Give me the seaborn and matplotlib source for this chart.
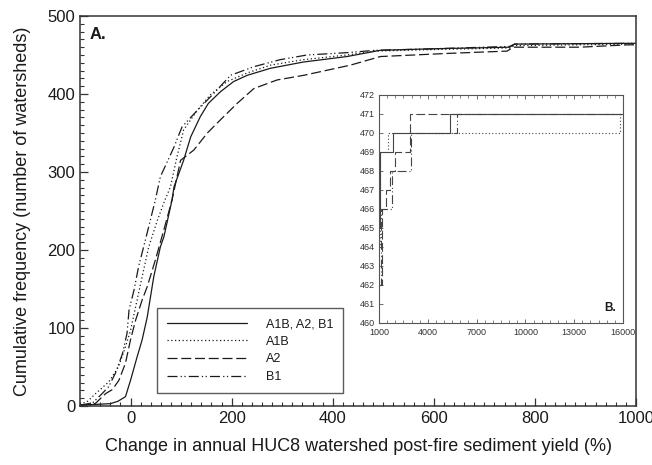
import numpy as np
import pandas as pd
import matplotlib
matplotlib.use("Agg")
import matplotlib.pyplot as plt
from matplotlib.ticker import MultipleLocator
import seaborn as sns

# ---------------- data ----------------
series_labels = ["A1B, A2, B1", "A1B", "A2", "B1"]

# Main panel: change (%) vs cumulative number of watersheds
all_x = [-100, -70, -40, -25, -10, 0, 13, 23, 33, 46, 59, 66, 82, 86, 105, 119, 138,
         154, 178, 204, 231, 277, 342, 428, 494, 600, 750, 760, 1000]
all_y = [1, 2, 3, 6, 12, 33, 63, 85, 114, 166, 204, 217, 264, 281, 315, 345, 371,
         388, 403, 416, 424, 433, 441, 448, 456, 458, 460, 464, 465]

a1b_x = [-100, -85, -69, -43, -24, -10, 0, 10, 23, 36, 53, 68, 79, 92, 105, 132, 158,
         191, 231, 277, 342, 428, 484, 600, 750, 760, 1000]
a1b_y = [2, 6, 16, 31, 50, 76, 97, 127, 166, 204, 238, 264, 281, 320, 354, 379, 399,
         416, 427, 437, 444, 450, 455, 457, 459, 462, 464]

a2_x = [-100, -70, -49, -36, -23, -10, 0, 10, 23, 33, 49, 66, 82, 99, 125, 152, 178,
        211, 244, 290, 343, 435, 494, 626, 745, 757, 889, 982, 1000]
a2_y = [1, 3, 16, 21, 33, 55, 85, 110, 136, 153, 187, 226, 264, 315, 328, 350, 367,
        388, 407, 418, 424, 437, 448, 452, 455, 460, 460, 463, 463]

b1_x = [-100, -75, -56, -43, -30, -16, -7, -3, 7, 16, 31, 49, 59, 86, 102, 132, 165,
        198, 244, 296, 349, 428, 484, 600, 750, 760, 1000]
b1_y = [1, 4, 16, 25, 42, 67, 93, 123, 149, 179, 217, 264, 294, 332, 358, 379, 401,
        424, 435, 444, 450, 453, 456, 458, 461, 464, 465]

# Inset panel (B.): tail of the distributions (step curves)
all_tail_x = [1000, 1050, 1860, 5360, 16000]
all_tail_y = [465, 469, 470, 471, 471]
a1b_tail_x = [1000, 1050, 1560, 15840, 16000]
a1b_tail_y = [464, 469, 470, 471, 471]
a2_tail_x = [1000, 1200, 1450, 1700, 1980, 2890, 16000]
a2_tail_y = [462, 466, 467, 468, 469, 471, 471]
b1_tail_x = [1000, 1100, 1150, 1820, 2950, 5770, 16000]
b1_tail_y = [462, 464, 466, 468, 470, 471, 471]

x_ticks_main = [0, 200, 400, 600, 800, 1000]
y_ticks_main = [0, 100, 200, 300, 400, 500]
x_ticks_inset = [1000, 4000, 7000, 10000, 13000, 16000]
y_ticks_inset = list(range(460, 473))

# ---------------- styling ----------------
sns.set_style("ticks")
plt.rcParams["font.family"] = ["Liberation Sans", "DejaVu Sans"]

ink = "#1a1a1a"
styles = [
    dict(linestyle="-"),
    dict(linestyle=(0, (1, 2))),
    dict(linestyle=(0, (8, 3))),
    dict(linestyle=(0, (8, 2.5, 1, 2, 1, 2.5))),
]

fig = plt.figure(figsize=(6.52, 4.65), dpi=100)
ax = fig.add_axes([0.1227, 0.1269, 0.8528, 0.8387])

main_sets = [(all_x, all_y), (a1b_x, a1b_y), (a2_x, a2_y), (b1_x, b1_y)]
for (xs, ys), lab, st in zip(main_sets, series_labels, styles):
    df = pd.DataFrame({"x": xs, "y": ys})
    sns.lineplot(data=df, x="x", y="y", ax=ax, estimator=None, sort=False,
                 color=ink, lw=0.9, label=lab, **st)

ax.set_xlim(-100, 1000)
ax.set_ylim(0, 500)
ax.set_xticks(x_ticks_main)
ax.set_yticks(y_ticks_main)
ax.xaxis.set_minor_locator(MultipleLocator(20))
ax.yaxis.set_minor_locator(MultipleLocator(10))
ax.tick_params(which="both", direction="in", top=False, right=False,
               colors="#333333", labelcolor=ink, labelsize=12)
ax.tick_params(which="major", length=6, width=0.9)
ax.tick_params(which="minor", length=3, width=0.8)
for sp in ax.spines.values():
    sp.set_color("#333333")
    sp.set_linewidth(1.1)
ax.set_xlabel("Change in annual HUC8 watershed post-fire sediment yield (%)",
              fontsize=13, color=ink, labelpad=9)
ax.set_ylabel("Cumulative frequency (number of watersheds)", fontsize=13,
              color=ink, labelpad=12)
ax.text(0.018, 0.972, "A.", transform=ax.transAxes, ha="left", va="top",
        fontsize=12, fontweight="bold", color=ink)

leg = ax.legend(loc="lower left", bbox_to_anchor=(0.1385, 0.0333), borderaxespad=0,
                fontsize=9, handlelength=6.4, handletextpad=1.5, labelspacing=0.45,
                borderpad=0.8, frameon=True, fancybox=False, edgecolor="#333333")
leg.get_frame().set_linewidth(1.0)
for t in leg.get_texts():
    t.set_color(ink)

# ---------------- inset ----------------
axi = fig.add_axes([0.5813, 0.3054, 0.3742, 0.4903])
tail_sets = [(all_tail_x, all_tail_y), (a1b_tail_x, a1b_tail_y),
             (a2_tail_x, a2_tail_y), (b1_tail_x, b1_tail_y)]
for (xs, ys), st in zip(tail_sets, styles):
    df = pd.DataFrame({"x": xs, "y": ys})
    sns.lineplot(data=df, x="x", y="y", ax=axi, estimator=None, sort=False,
                 color="#444444", lw=0.8, drawstyle="steps-post", legend=False, **st)
axi.set_xlim(1000, 16000)
axi.set_ylim(460, 472)
axi.set_xticks(x_ticks_inset)
axi.set_yticks(y_ticks_inset)
axi.xaxis.set_minor_locator(MultipleLocator(500))
axi.tick_params(which="both", direction="in", top=True, bottom=True, right=False,
                colors="#555555", labelcolor="#333333", labelsize=6.5)
axi.tick_params(axis="x", pad=3.5)
axi.tick_params(axis="y", pad=3)
axi.tick_params(which="major", length=3, width=0.6)
axi.tick_params(which="minor", length=2, width=0.5)
axi.set_xlabel("")
axi.set_ylabel("")
for sp in axi.spines.values():
    sp.set_color("#555555")
    sp.set_linewidth(0.8)
axi.text(0.97, 0.04, "B.", transform=axi.transAxes, ha="right", va="bottom",
         fontsize=8.5, fontweight="bold", color=ink)

fig.savefig("out.png", dpi=100)
